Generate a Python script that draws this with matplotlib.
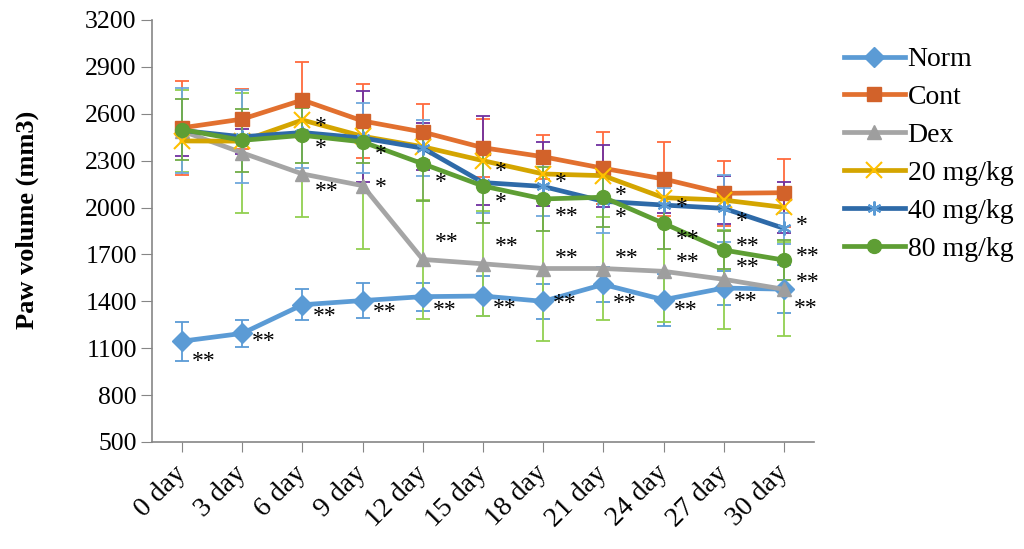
import numpy as np
import matplotlib.pyplot as plt
import matplotlib.transforms as mtransforms

plt.rcParams['font.family'] = ['Liberation Serif', 'DejaVu Serif']

days = ['0 day', '3 day', '6 day', '9 day', '12 day', '15 day',
        '18 day', '21 day', '24 day', '27 day', '30 day']

norm = [1145, 1195, 1378, 1405, 1430, 1434, 1400, 1508, 1410, 1485, 1478]
norm_err = [125, 88, 100, 110, 90, 130, 110, 110, 165, 107, 155]
cont = [2510, 2566, 2688, 2554, 2483, 2383, 2325, 2251, 2183, 2091, 2095]
cont_err = [300, 192, 243, 236, 180, 185, 140, 230, 235, 209, 218]
dex = [2490, 2350, 2215, 2140, 1668, 1640, 1610, 1610, 1592, 1541, 1477]
dex_err = [265, 385, 275, 405, 382, 337, 465, 330, 327, 318, 300]
mg20 = [2426, 2425, 2560, 2456, 2389, 2300, 2215, 2204, 2063, 2048, 2001]
mg20_err = [96, 80, 100, 290, 150, 285, 202, 198, 100, 155, 165]
mg40 = [2493, 2453, 2480, 2445, 2380, 2160, 2135, 2040, 2016, 1995, 1867]
mg40_err = [275, 298, 225, 226, 180, 195, 191, 200, 110, 213, 98]
mg80 = [2499, 2430, 2462, 2420, 2280, 2138, 2055, 2066, 1899, 1728, 1664]
mg80_err = [195, 202, 174, 137, 235, 235, 205, 190, 166, 120, 128]

# significance marks
norm_sig = ['**'] * 11
dex_sig = ['', '', '**', '*', '**', '**', '**', '**', '**', '**', '**']
mg40_sig = ['', '', '*', '', '', '*', '*', '*', '*', '*', '*']
mg80_sig = ['', '', '*', '*', '*', '*', '**', '*', '**', '**', '**']

# offsets of the marks in pixels (dy down)
norm_dy = [20, 8, 12, 12, 14, 12, 2, 19, 11, 13, 19]
dex_dy = [0, 0, 18, 2, -17, -17, -10, -10, -9, -12, -7]
mg40_dy = [0, 0, -6, 0, 0, -11, -4, -6, 2, 13, -3]
mg80_dy = [0, 0, 13, 13, 19, 17, 18, 20, 16, -4, -4]

series = [
    # label, values, err, line color, marker, marker color, bar color
    ('Norm', norm, norm_err, '#5B9BD5', 'D', '#5B9BD5', '#5B9BD5'),
    ('Cont', cont, cont_err, '#E2702F', 's', '#D2622A', '#FF6A3D'),
    ('Dex', dex, dex_err, '#A5A5A5', '^', '#9E9E9E', '#92D050'),
    ('20 mg/kg', mg20, mg20_err, '#D4A500', 'x', '#FFC000', '#7030A0'),
    ('40 mg/kg', mg40, mg40_err, '#2E6AA8', (6, 2, 0), '#5B9BD5', '#6FA8DC'),
    ('80 mg/kg', mg80, mg80_err, '#5E9E34', 'o', '#5E9E34', '#70AD47'),
]

fig = plt.figure(figsize=(10.24, 5.49), dpi=100)
ax = fig.add_axes([0.1484, 0.1949, 0.6465, 0.7687])
x = np.arange(len(days))

for lab, vals, err, lc, mk, mc, bc in series:
    ax.errorbar(x, vals, yerr=err, fmt='none', ecolor=bc, elinewidth=1.3,
                capsize=5, capthick=1.3, zorder=1)

for k, (lab, vals, err, lc, mk, mc, bc) in enumerate(series):
    ms = 11 if mk == 'x' else 10
    mew = 1.5 if mk == 'x' or isinstance(mk, tuple) else 1
    ax.plot(x, vals, color=lc, lw=3.4, marker=mk, markersize=ms,
            markerfacecolor=mc, markeredgecolor=mc, markeredgewidth=mew,
            label=lab, zorder=3 + k)


def put_marks(vals, marks, dys, dx):
    for i, (v, m, dy) in enumerate(zip(vals, marks, dys)):
        if m:
            ax.annotate(m, (i, v), xytext=(dx * 0.72, -dy * 0.72),
                        textcoords='offset points', ha='left', va='center',
                        fontsize=17, color='black', zorder=10)


put_marks(norm, norm_sig, norm_dy, 10)
put_marks(dex, dex_sig, dex_dy, 12)
put_marks(mg40, mg40_sig, mg40_dy, 12)
put_marks(mg80, mg80_sig, mg80_dy, 12)

ax.set_xlim(-0.5, 10.5)
ax.set_ylim(500, 3200)
ax.set_yticks(np.arange(500, 3201, 300))
ax.set_xticks(x)
ax.set_xticklabels(days, rotation=45, ha='right', va='center',
                   rotation_mode='anchor')
shift = mtransforms.ScaledTranslation(15 / 100, 0, fig.dpi_scale_trans)
for lbl in ax.get_xticklabels():
    lbl.set_transform(lbl.get_transform() + shift)
ax.tick_params(axis='y', labelsize=18.5, length=8, color='#868686', pad=3)
ax.tick_params(axis='x', labelsize=20, length=7, color='#868686', pad=13)
for s in ['top', 'right']:
    ax.spines[s].set_visible(False)
for s in ['left', 'bottom']:
    ax.spines[s].set_color('#868686')
    ax.spines[s].set_linewidth(1.2)

ax.set_ylabel('Paw volume (mm3)', fontsize=19, fontweight='bold')
ax.yaxis.set_label_coords(-0.171, 0.526)

fig.legend(loc='upper left', bbox_to_anchor=(0.813, 0.935), frameon=False,
           fontsize=20, handlelength=2.2, handletextpad=0.1,
           labelspacing=0.45, borderaxespad=0)

fig.savefig('out.png', dpi=100)
